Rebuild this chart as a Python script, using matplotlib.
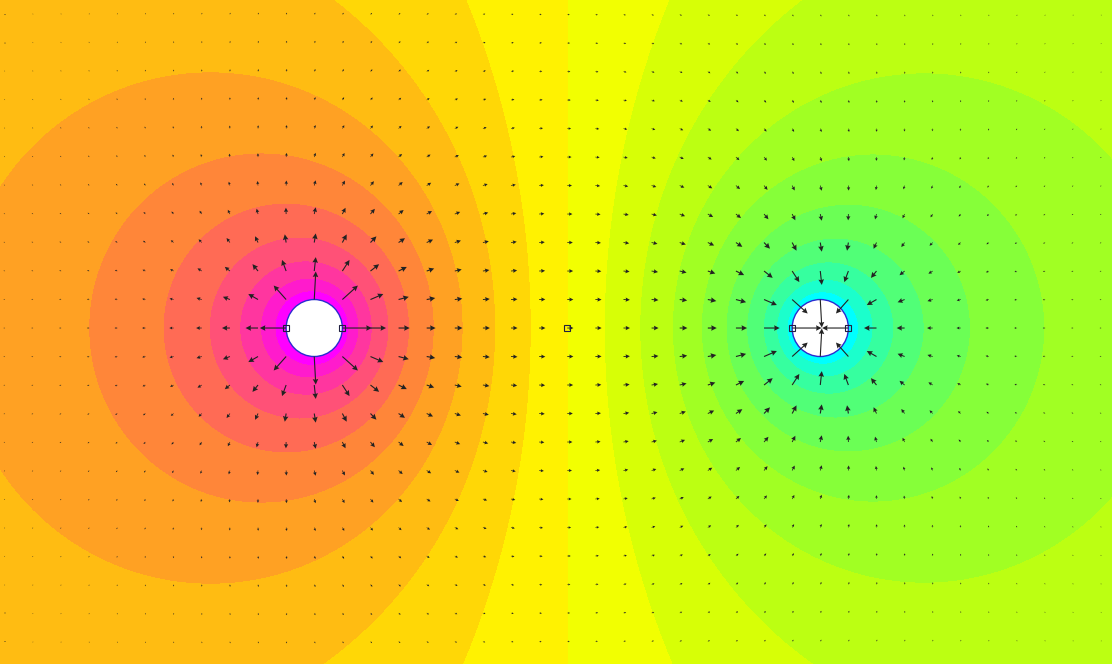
"""
Dipole potential map with field arrows.

Two line charges of opposite sign: filled equipotential bands
and a quiver of the electric field on a coarse grid.
"""

import numpy as np
import matplotlib.pyplot as plt
from matplotlib.colors import ListedColormap
from matplotlib.patches import Circle


# ============================================================
# Charges and domain
# ============================================================

CHARGE_X = [-1.0, 1.0]
CHARGE_Y = [0.0, 0.0]
CHARGE_Q = [1.0, -1.0]
CHARGE_RADIUS = 1.0 / 9.0

X_LIM = (-2.242, 2.153)
Y_LIM = (-1.31, 1.279)

# Arrow grid (index ranges, spacing 1/9)
GRID_STEP = 1.0 / 9.0
GRID_I = np.arange(-20, 20)
GRID_J = np.arange(-11, 12)

# Equipotential bands
LEVEL_STEP = 0.295
N_BANDS_PER_SIDE = 10

# Probe points drawn as small squares
PROBE_X = [-10 / 9, -8 / 9, 0.0, 8 / 9, 10 / 9]
PROBE_Y = [0.0, 0.0, 0.0, 0.0, 0.0]


# ============================================================
# Helper functions
# ============================================================

def potential(x, y):
    """2D (log) potential of the line charges."""
    v = np.zeros_like(x)
    for cx, cy, q in zip(CHARGE_X, CHARGE_Y, CHARGE_Q):
        r = np.hypot(x - cx, y - cy)
        v -= q * np.log(np.maximum(r, 1e-9))
    return v


def field(x, y):
    """E = -grad V, NaN at the charge centres."""
    ex = np.zeros_like(x)
    ey = np.zeros_like(y)
    for cx, cy, q in zip(CHARGE_X, CHARGE_Y, CHARGE_Q):
        dx = x - cx
        dy = y - cy
        r2 = dx ** 2 + dy ** 2
        with np.errstate(divide="ignore", invalid="ignore"):
            ex += q * dx / r2
            ey += q * dy / r2
    bad = ~np.isfinite(ex) | ~np.isfinite(ey)
    ex[bad] = np.nan
    ey[bad] = np.nan
    return ex, ey


def band_colors(n):
    """cyan -> yellow -> magenta, blue channel rising late."""
    t = (np.arange(1, n + 1) - 0.5) / (n - 0.5)
    pos = np.column_stack([np.ones(n), 1 - t, t ** 2])
    neg = np.column_stack([1 - t, np.ones(n), t ** 2])
    return np.vstack([neg[::-1], pos])


def main():
    fig = plt.figure(figsize=(11.12, 6.64), dpi=100)
    ax = fig.add_axes([0, 0, 1, 1])

    # fine grid for the filled contours
    xs = np.linspace(X_LIM[0], X_LIM[1], 900)
    ys = np.linspace(Y_LIM[0], Y_LIM[1], 560)
    X, Y = np.meshgrid(xs, ys)
    V = potential(X, Y)

    colors = band_colors(N_BANDS_PER_SIDE)
    cmap = ListedColormap(colors).with_extremes(under=colors[0], over=colors[-1])
    levels = LEVEL_STEP * np.arange(-N_BANDS_PER_SIDE, N_BANDS_PER_SIDE + 1)

    ax.contourf(X, Y, V, levels=levels, cmap=cmap, extend="both",
                antialiased=False, zorder=1)

    # charges as white discs
    for cx, cy in zip(CHARGE_X, CHARGE_Y):
        ax.add_patch(Circle((cx, cy), CHARGE_RADIUS, facecolor="white",
                            edgecolor="#2b2bd0", linewidth=1.0, zorder=3))

    # field arrows
    gx, gy = np.meshgrid(GRID_I * GRID_STEP, GRID_J * GRID_STEP)
    ex, ey = field(gx, gy)
    ax.quiver(gx, gy, ex, ey, angles="xy", scale_units="xy", scale=82,
              width=0.001, headwidth=5, headlength=5, headaxislength=4.5,
              minshaft=1.5, color="#222222", zorder=4)

    ax.plot(PROBE_X, PROBE_Y, "s", markersize=4.5, markerfacecolor="none",
            markeredgecolor="#202040", markeredgewidth=0.8, zorder=5)

    ax.set_xlim(*X_LIM)
    ax.set_ylim(*Y_LIM)
    ax.axis("off")

    fig.savefig("out.png", dpi=100)


if __name__ == "__main__":
    main()
